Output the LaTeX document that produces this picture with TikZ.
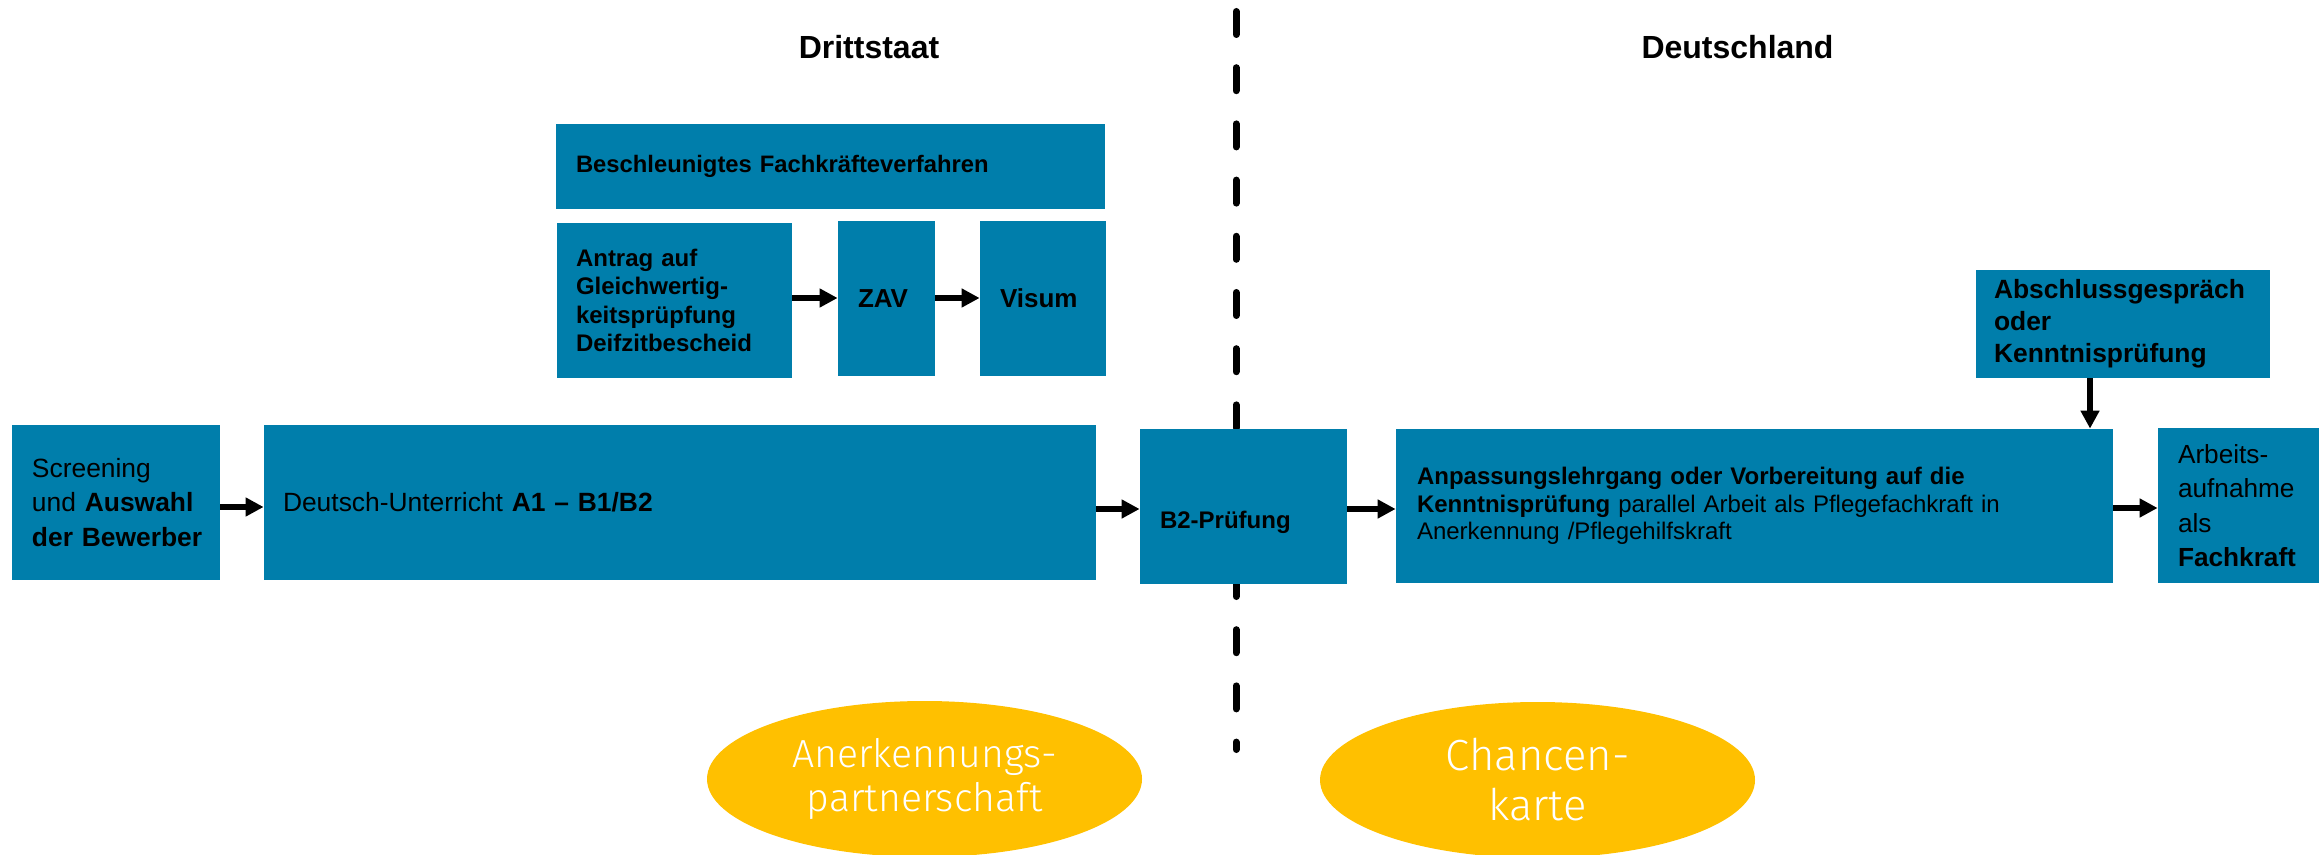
\documentclass[tikz,border=0pt]{standalone}
\usepackage{fontspec}
\setmainfont{Liberation Sans}
\newfontfamily\lightfont{Fira Sans Light}
\usetikzlibrary{arrows.meta,shapes.geometric}
\definecolor{boxblue}{RGB}{0,126,171}
\definecolor{ovalgold}{RGB}{255,192,0}
\hyphenpenalty=10000
\exhyphenpenalty=10000
\begin{document}
\begin{tikzpicture}[x=1pt,y=-1pt,
  box/.style={fill=boxblue, inner sep=0pt, align=left, text=black, anchor=center},
  flow/.style={line width=3pt, -{Triangle[length=9pt,width=9pt]}},
  oval/.style={ellipse, fill=ovalgold, inner sep=0pt, minimum width=217.5pt, minimum height=78pt, text=white, align=center},
  title/.style={font=\fontsize{16}{19}\selectfont\bfseries, inner sep=0pt},
  divider/.style={line width=3.5pt, line cap=round, dash pattern=on 11.5pt off 16.6pt}]
\useasboundingbox (0,0) rectangle (1160.5,427.5);

% titles
\node[title] (dritt) at (434.5,23.5) {Drittstaat};
\node[title] (de) at (868.75,23.5) {Deutschland};

% dashed border line
\coordinate (divtop) at (618,5.75);
\coordinate (divbot) at (618,374.75);
\draw[divider] (divtop) -- (divbot);

% boxes
\node[box, minimum width=274.5pt, minimum height=42.5pt, text width=254.5pt,
      font=\fontsize{11.9}{14}\selectfont\bfseries] (besch) at (415.25,83.25)
      {Beschleunigtes Fachkräfteverfahren};
\node[box, minimum width=117.5pt, minimum height=77.5pt, text width=98.5pt,
      font=\fontsize{12}{14.3}\selectfont\bfseries] (antrag) at (337.25,150.25)
      {Antrag auf\\Gleichwertig-\\keitsprüpfung\\Deifzitbescheid};
\node[box, minimum width=48.5pt, minimum height=77.5pt, text width=28.5pt,
      font=\fontsize{13}{15}\selectfont\bfseries] (zav) at (443.25,149.25) {ZAV};
\node[box, minimum width=63pt, minimum height=77.5pt, text width=43pt,
      font=\fontsize{13}{15}\selectfont\bfseries] (visum) at (521.5,149.25) {Visum};

\node[box, minimum width=104pt, minimum height=77.5pt, text width=84pt,
      font=\fontsize{13.2}{17.2}\selectfont] (screen) at (58,251.25)
      {Screening\\\mbox{und \textbf{Auswahl}}\\\mbox{\textbf{der Bewerber}}};
\node[box, minimum width=416pt, minimum height=77.5pt, text width=397pt,
      font=\fontsize{13.2}{16}\selectfont] (deutsch) at (340,251.25)
      {Deutsch-Unterricht \textbf{A1 – B1/B2}};
\node[box, minimum width=103.5pt, minimum height=77.5pt, text width=83.5pt,
      font=\fontsize{12}{14}\selectfont\bfseries] (b2) at (621.75,253.25)
      {\raisebox{-7.75pt}[\height][\depth]{B2-Prüfung}};
\node[box, minimum width=358.5pt, minimum height=77pt, text width=337.5pt,
      font=\fontsize{12}{13.8}\selectfont] (anp) at (877.25,253)
      {\textbf{Anpassungslehrgang oder Vorbereitung auf die}\\\textbf{Kenntnisprüfung} parallel Arbeit als Pflegefachkraft in\\Anerkennung /Pflegehilfskraft};
\node[box, minimum width=80.5pt, minimum height=77.5pt, text width=60.5pt,
      font=\fontsize{13.1}{17.2}\selectfont] (arbeit) at (1119.25,252.75)
      {Arbeits-\\aufnahme\\als\\\mbox{\textbf{Fachkraft}}};
\node[box, minimum width=147pt, minimum height=54pt, text width=129pt,
      font=\fontsize{13.2}{16}\selectfont\bfseries] (absch) at (1061.5,162)
      {Abschlussgespräch\\oder\\Kenntnisprüfung};

% ovals
\node[oval, font=\lightfont\fontsize{19.6}{22}\selectfont] (anerk) at (462.25,389.5)
      {Anerkennungs-\\partnerschaft};
\node[oval, font=\lightfont\fontsize{21.8}{25}\selectfont] (chance) at (768.75,390)
      {Chancen-\\karte};

% connectors
\draw[flow] (antrag.east |- 0,149) -- (zav.west |- 0,149);
\draw[flow] (zav.east |- 0,149) -- (visum.west |- 0,149);
\draw[flow] (screen.east |- 0,253.5) -- (deutsch.west |- 0,253.5);
\draw[flow] (deutsch.east |- 0,254.5) -- (b2.west |- 0,254.5);
\draw[flow] (b2.east |- 0,254.5) -- (anp.west |- 0,254.5);
\draw[flow] (anp.east |- 0,254) -- (arbeit.west |- 0,254);
\draw[flow] (absch.south -| 1045,0) -- (anp.north -| 1045,0);
\end{tikzpicture}
\end{document}
